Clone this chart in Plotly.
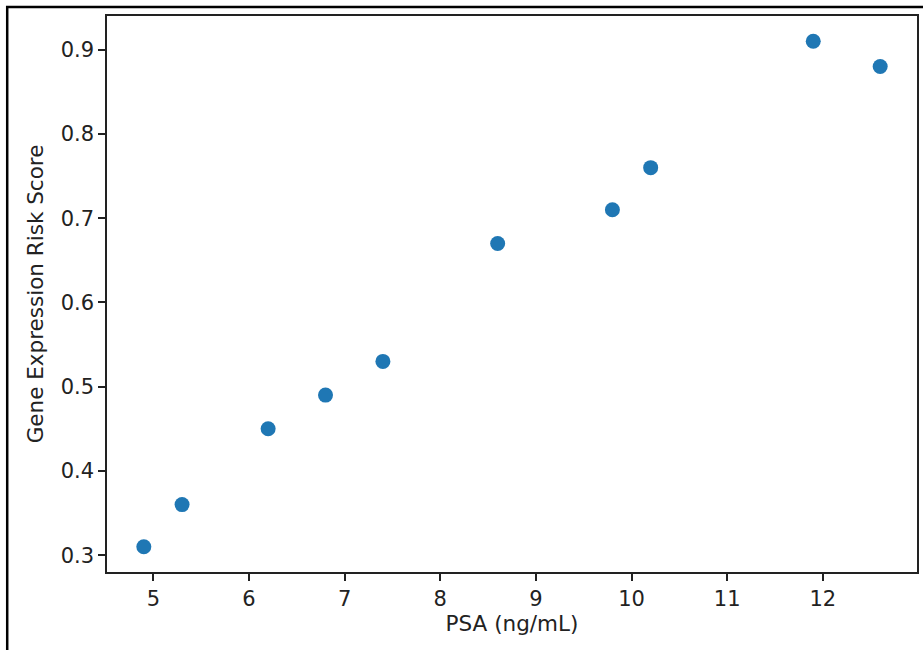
import plotly.graph_objects as go

psa = [4.9, 5.3, 6.2, 6.8, 7.4, 8.6, 9.8, 10.2, 11.9, 12.6]
risk_score = [0.31, 0.36, 0.45, 0.49, 0.53, 0.67, 0.71, 0.76, 0.91, 0.88]
x_ticks = [5, 6, 7, 8, 9, 10, 11, 12]
y_ticks = [0.3, 0.4, 0.5, 0.6, 0.7, 0.8, 0.9]

fig = go.Figure(go.Scatter(
    x=psa, y=risk_score, mode="markers",
    marker=dict(color="#1f77b4", size=15, line=dict(width=0)),
))

tick_font = dict(family="DejaVu Sans", size=21, color="#222222")
title_font = dict(family="DejaVu Sans", size=21.5, color="#222222")
axis_common = dict(
    showline=True, linecolor="#222222", linewidth=1.5, mirror=True,
    ticks="outside", ticklen=7, tickwidth=1.5, tickcolor="#222222",
    showgrid=False, zeroline=False, tickfont=tick_font,
)

fig.update_layout(
    width=923, height=650,
    margin=dict(l=107, r=4, t=16, b=78),
    paper_bgcolor="white", plot_bgcolor="white",
    showlegend=False,
    font=tick_font,
    xaxis=dict(range=[4.515, 12.985], tickvals=x_ticks,
               title=dict(text="PSA (ng/mL)", font=title_font, standoff=6), **axis_common),
    yaxis=dict(range=[0.28, 0.94], tickvals=y_ticks, tickformat=".1f",
               title=dict(text="Gene Expression Risk Score", font=title_font, standoff=11), **axis_common),
    shapes=[dict(type="rect", xref="paper", yref="paper",
                 x0=-0.1232, x1=1.01, y0=-0.15, y1=1.0162,
                 line=dict(color="black", width=2.5), fillcolor="rgba(0,0,0,0)", layer="below")],
)

fig.write_html("out.html", config={"displayModeBar": False},
               post_script="document.body.style.margin='0';document.body.style.overflow='hidden';")
